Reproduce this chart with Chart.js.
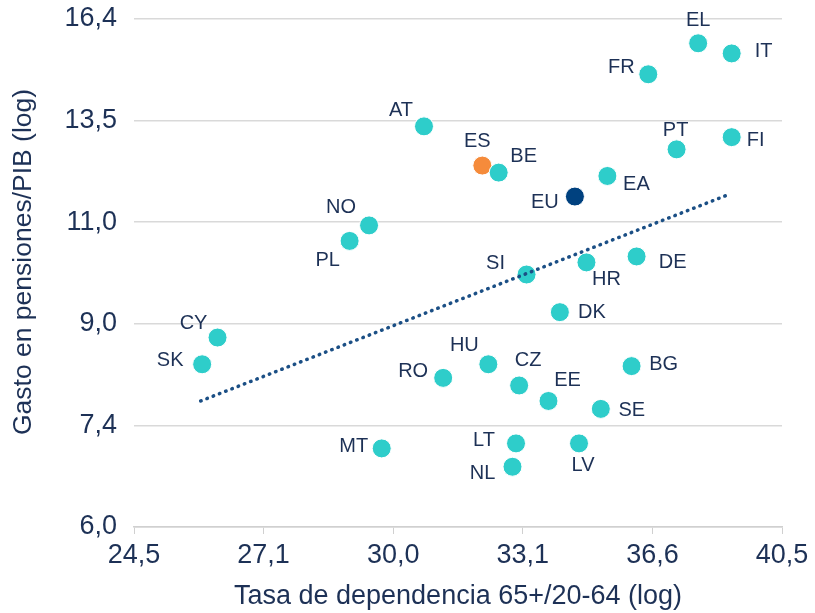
<!DOCTYPE html>
<html>
<head>
  <meta charset="UTF-8">
  <title>Gasto en pensiones vs tasa de dependencia</title>
  <style type="text/css">
    body { margin: 0; background: #ffffff; }
    #chart-container { width: 815px; height: 613px; }
  </style>
  <script type="text/javascript" src="https://cdn.jsdelivr.net/npm/chart.js@4.4.0/dist/chart.umd.min.js"></script>
</head>
<body>

<div id="chart-container">
  <canvas id="mycanvas"></canvas>
</div>

<script>
// data (both axes in log scale)
var countries  = ['EL','IT','FR','AT','ES','BE','PT','FI','EA','EU','SI','HR','DE','NO','PL',
                  'CY','SK','MT','DK','HU','RO','CZ','EE','BG','SE','LT','LV','NL'];
var dependency = [37.95,38.95,36.51,30.68,32.10,32.51,37.32,38.95,35.37,34.49,33.22,34.80,36.18,29.40,28.96,
                  26.14,25.83,29.69,34.09,32.25,31.14,33.03,33.79,36.04,35.19,32.95,34.60,32.86];
var spending   = [15.63,15.32,14.70,13.26,12.27,12.10,12.67,12.98,12.02,11.54,9.89,10.13,10.25,10.90,10.57,
                  8.73,8.28,7.01,9.18,8.28,8.06,7.94,7.70,8.25,7.58,7.08,7.08,6.76];
var trendX = [25.80, 38.80];
var trendY = [7.70, 11.57];

var xTickLabels = ['24,5','27,1','30,0','33,1','36,6','40,5'];
var yTickLabels = ['6,0','7,4','9,0','11,0','13,5','16,4'];

var textColor = '#1d3156';
var teal = '#2ecdca';
var fontFamily = '"Liberation Sans", Arial, sans-serif';

// where each country code sits relative to its dot
var labelOffsets = {
  EL:[0,-23], IT:[32,-2], FR:[-27,-7], AT:[-23,-16], ES:[-5,-24], BE:[25,-16], PT:[-1,-19],
  FI:[24,3], EA:[29,9], EU:[-30,6], SI:[-31,-11], HR:[20,17], DE:[36,6], NO:[-28,-18],
  PL:[-22,20], CY:[-24,-14], SK:[-32,-4], MT:[-28,-2], DK:[32,0], HU:[-24,-19], RO:[-30,-6],
  CZ:[9,-25], EE:[19,-20], BG:[32,-2], SE:[31,2], LT:[-32,-3], LV:[4,22], NL:[-30,7]
};

function pointColor(code) {
  if (code === 'ES') return '#f58b3b';
  if (code === 'EU') return '#00417f';
  return teal;
}

// ticks evenly spaced on the log axis, labelled from the arrays above
function logTicks(labels, min, max) {
  return function(scale) {
    scale.ticks = labels.map(function(l, i) {
      return { value: min * Math.pow(max / min, i / (labels.length - 1)) };
    });
  };
}

var points = [];
for (var i = 0; i < countries.length; i++) {
  points.push({ x: dependency[i], y: spending[i] });
}
var trend = [];
for (var j = 0; j < trendX.length; j++) {
  trend.push({ x: trendX[j], y: trendY[j] });
}

var pointLabels = {
  id: 'pointLabels',
  afterDatasetsDraw: function(chart) {
    var ctx = chart.ctx;
    var meta = chart.getDatasetMeta(1);
    ctx.save();
    ctx.font = '20px ' + fontFamily;
    ctx.fillStyle = textColor;
    ctx.textAlign = 'center';
    ctx.textBaseline = 'middle';
    meta.data.forEach(function(el, k) {
      var off = labelOffsets[countries[k]] || [0, -20];
      ctx.fillText(countries[k], el.x + off[0], el.y + off[1]);
    });
    ctx.restore();
  }
};

var ctx = document.getElementById('mycanvas');

new Chart(ctx, {
  type: 'scatter',
  data: {
    datasets: [
      {
        type: 'line',
        data: trend,
        borderColor: '#1b4f85',
        borderWidth: 3.5,
        borderDash: [0.5, 6.2],
        borderCapStyle: 'round',
        pointRadius: 0,
        fill: false
      },
      {
        data: points,
        backgroundColor: countries.map(pointColor),
        borderColor: '#ffffff',
        borderWidth: 1,
        pointRadius: 9.5,
        pointHoverRadius: 9.5
      }
    ]
  },
  options: {
    responsive: true,
    maintainAspectRatio: false,
    animation: false,
    layout: { padding: { top: 19, right: 33, left: 0, bottom: 0 } },
    plugins: {
      legend: { display: false },
      tooltip: { enabled: false }
    },
    scales: {
      x: {
        type: 'logarithmic',
        min: 24.5,
        max: 40.5,
        afterBuildTicks: logTicks(xTickLabels, 24.5, 40.5),
        afterFit: function(scale) {
          scale.height = 86;
          scale.paddingLeft = 0;
          scale.paddingRight = 0;
        },
        grid: { drawOnChartArea: false, drawTicks: true, tickLength: 7, color: '#d0d0d0' },
        border: { color: '#d0d0d0', width: 1.5 },
        ticks: {
          autoSkip: false,
          maxRotation: 0,
          padding: 5,
          color: textColor,
          font: { family: fontFamily, size: 27 },
          callback: function(v, idx) { return xTickLabels[idx]; }
        },
        title: {
          display: true,
          text: 'Tasa de dependencia 65+/20-64 (log)',
          color: textColor,
          padding: { top: 0, bottom: 0 },
          font: { family: fontFamily, size: 27 }
        }
      },
      y: {
        type: 'logarithmic',
        min: 6.0,
        max: 16.4,
        afterBuildTicks: logTicks(yTickLabels, 6.0, 16.4),
        afterFit: function(scale) {
          scale.width = 134;
          scale.paddingTop = 0;
          scale.paddingBottom = 0;
        },
        grid: { drawTicks: false, color: '#d9d9d9', lineWidth: 1.5 },
        border: { display: false },
        ticks: {
          autoSkip: false,
          padding: 17,
          color: textColor,
          font: { family: fontFamily, size: 27 },
          callback: function(v, idx) { return yTickLabels[idx]; }
        },
        title: {
          display: true,
          // leading spaces nudge the rotated title up a little, as in the original
          text: '\u00a0\u00a0\u00a0Gasto en pensiones/PIB (log)',
          color: textColor,
          padding: { top: 8, bottom: 0 },
          font: { family: fontFamily, size: 26.5 }
        }
      }
    }
  },
  plugins: [pointLabels]
});
</script>

</body>
</html>
